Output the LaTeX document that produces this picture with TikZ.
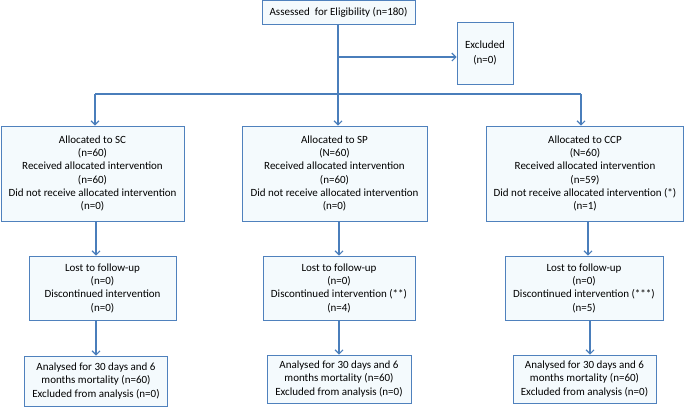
\documentclass[tikz,border=0pt]{standalone}
\usepackage{fontspec}
\setmainfont{Carlito}
\usepackage{tikz}
\usetikzlibrary{arrows.meta, positioning}

\definecolor{boxline}{RGB}{79,129,189}
\definecolor{boxfill}{RGB}{244,250,253}
\definecolor{arrowline}{RGB}{74,126,187}

\begin{document}
\begin{tikzpicture}[x=1pt,y=-1pt,>={Straight Barb[length=4pt,width=8pt]},
        every node/.style={font=\fontsize{11}{13.3}\selectfont},
        flowbox/.style={draw=boxline,fill=boxfill,line width=0.9pt,align=center,inner sep=0pt},
        flow/.style={draw=arrowline,line width=1.1pt}]

      \useasboundingbox (0,0) rectangle (685,407);

      \node[flowbox,minimum width=153,minimum height=24] (elig) at (338.5,12.5) {Assessed\ \ for Eligibility (n=180)};
      \node[flowbox,minimum width=56,minimum height=62]  (excl) at (485,53) {Excluded\\[1.5pt](n=0)};

      \node[flowbox,minimum width=183,minimum height=95] (alloc_sc)  at (92.5,173.5)
        {Allocated to SC\\(n=60)\\Received allocated intervention\\(n=60)\\Did not receive allocated intervention\\(n=0)};
      \node[flowbox,minimum width=185,minimum height=95] (alloc_sp)  at (334.5,173.5)
        {Allocated to SP\\(N=60)\\Received allocated intervention\\(n=60)\\Did not receive allocated intervention\\(n=0)};
      \node[flowbox,minimum width=197,minimum height=95] (alloc_ccp) at (585,173.5)
        {Allocated to CCP\\(N=60)\\Received allocated intervention\\(n=59)\\Did not receive allocated intervention (*)\\(n=1)};

      \node[flowbox,minimum width=147,minimum height=64] (lost_sc)  at (102.5,288)
        {Lost to follow-up\\(n=0)\\Discontinued intervention\\(n=0)};
      \node[flowbox,minimum width=152,minimum height=64] (lost_sp)  at (339,288)
        {Lost to follow-up\\(n=0)\\Discontinued intervention (**)\\(n=4)};
      \node[flowbox,minimum width=158,minimum height=64] (lost_ccp) at (584,288)
        {Lost to follow-up\\(n=0)\\Discontinued intervention (***)\\(n=5)};

      \node[flowbox,minimum width=143,minimum height=50] (anal_sc)  at (96,381)
        {Analysed for 30 days and 6\\months mortality (n=60)\\Excluded from analysis (n=0)};
      \node[flowbox,minimum width=144,minimum height=48] (anal_sp)  at (339,379)
        {Analysed for 30 days and 6\\months mortality (n=60)\\Excluded from analysis (n=0)};
      \node[flowbox,minimum width=143,minimum height=48] (anal_ccp) at (584.5,379)
        {Analysed for 30 days and 6\\months mortality (n=60)\\Excluded from analysis (n=0)};

      % split points on the trunk
      \coordinate (split) at (338,57);
      \coordinate (bar_l) at (95,94);
      \coordinate (bar_r) at (581,94);

      \draw[flow,->] (elig.south -| split) -- (split |- alloc_sp.north);
      \draw[flow,->] (split) -- (excl.west |- split);
      \draw[flow] (bar_l) -- (bar_r);
      \draw[flow,->] (bar_l) -- (bar_l |- alloc_sc.north);
      \draw[flow,->] (bar_r) -- (bar_r |- alloc_ccp.north);

      \draw[flow,->] (anal_sc.north |- alloc_sc.south) -- (anal_sc.north |- lost_sc.north);
      \draw[flow,->] (anal_sc.north |- lost_sc.south) -- (anal_sc.north);
      \draw[flow,->] (lost_sp.north |- alloc_sp.south) -- (lost_sp.north);
      \draw[flow,->] (lost_sp.south) -- (anal_sp.north);
      \draw[flow,->] ([xshift=4]lost_ccp.north |- alloc_ccp.south) -- ([xshift=4]lost_ccp.north);
      \draw[flow,->] ([xshift=6]lost_ccp.south) -- ([xshift=6]lost_ccp.south |- anal_ccp.north);
    \end{tikzpicture}
\end{document}
